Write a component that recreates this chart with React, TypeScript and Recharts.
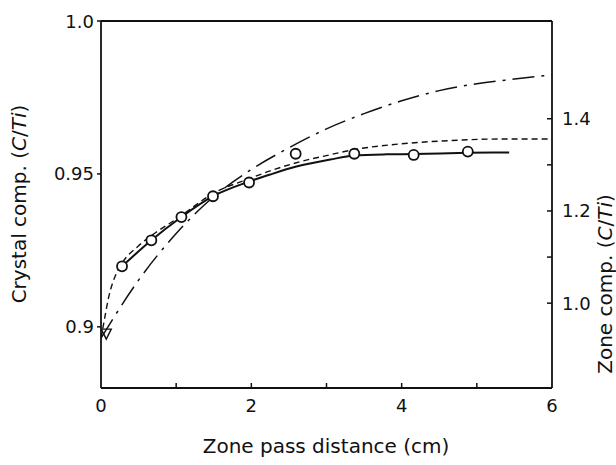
import React from "react";
import { ComposedChart, Line, Scatter, XAxis, YAxis, ReferenceLine } from "recharts";

// axis ticks
const xTicks = [0, 1, 2, 3, 4, 5, 6];
const xLabels = [0, 2, 4, 6];
const leftTicks = [0.9, 0.95, 1.0];
const rightTicks = [1.0, 1.1, 1.2, 1.3, 1.4];
const rightLabels = [1.0, 1.2, 1.4];

// measured crystal composition (open circles)
const measuredX = [0.28, 0.67, 1.07, 1.49, 1.97, 2.59, 3.37, 4.16, 4.88];
const measuredC = [0.9198, 0.9283, 0.9359, 0.9427, 0.9472, 0.9566, 0.9566, 0.9562, 0.9573];

// solid curve through the measured points
const solidX = [0.28, 0.67, 1.07, 1.49, 1.97, 2.25, 2.6, 3.05, 3.37, 3.8, 4.16, 4.88, 5.43];
const solidC = [0.9198, 0.9283, 0.9359, 0.9427, 0.9475, 0.9498, 0.9524, 0.9547, 0.956, 0.9564, 0.9565, 0.9569, 0.957];

// short dashed curve (crystal comp.)
const dashedX = [0, 0.05, 0.1, 0.15, 0.2, 0.28, 0.5, 0.75, 1.0, 1.5, 2.0, 2.25, 2.65, 3.0, 3.38, 3.98, 4.64, 5.31, 6.0];
const dashedC = [0.8962, 0.903, 0.9095, 0.914, 0.9172, 0.9208, 0.9265, 0.9312, 0.9352, 0.9437, 0.9487, 0.951, 0.954, 0.956, 0.958, 0.9598, 0.9609, 0.9614, 0.9614];

// dash-dot curve (zone comp., right axis)
const zoneX = [0, 0.5, 1.0, 1.5, 2.0, 2.5, 3.0, 3.5, 4.0, 4.5, 5.0, 5.5, 6.0];
const zoneZ = [0.924, 1.05, 1.151, 1.231, 1.29, 1.337, 1.378, 1.411, 1.439, 1.461, 1.476, 1.486, 1.495];

// starting point (triangle)
const startX = [0.07];
const startC = [0.8976];

const measured = measuredX.map((x, i) => ({ x, c: measuredC[i] }));
const solid = solidX.map((x, i) => ({ x, c: solidC[i] }));
const dashed = dashedX.map((x, i) => ({ x, c: dashedC[i] }));
const zone = zoneX.map((x, i) => ({ x, z: zoneZ[i] }));
const start = startX.map((x, i) => ({ x, c: startC[i] }));

const FONT = "'DejaVu Sans', sans-serif";
const INK = "#111";

const BottomTick = (props: any) => {
  const { x, y, payload } = props;
  const v = payload.value;
  return (
    <g>
      {v > 0 && v < 6 && <line x1={x} x2={x} y1={y} y2={y - 5} stroke={INK} strokeWidth={1.5} />}
      {xLabels.includes(v) && (
        <text x={x} y={y + 17} textAnchor="middle" dominantBaseline="central" fontFamily={FONT} fontSize={18} fill={INK}>
          {v}
        </text>
      )}
    </g>
  );
};

const LeftTick = (props: any) => {
  const { x, y, payload } = props;
  const v = payload.value;
  const label = v === 1 ? "1.0" : String(v);
  return (
    <g>
      <line x1={x - 4} x2={x} y1={y} y2={y} stroke={INK} strokeWidth={1.5} />
      <text x={x - 7} y={y} textAnchor="end" dominantBaseline="central" fontFamily={FONT} fontSize={18} fill={INK}>
        {label}
      </text>
    </g>
  );
};

const RightTick = (props: any) => {
  const { x, y, payload } = props;
  const v = payload.value;
  const show = rightLabels.some((r) => Math.abs(r - v) < 1e-6);
  return (
    <g>
      <line x1={x - 5} x2={x} y1={y} y2={y} stroke={INK} strokeWidth={1.5} />
      {show && (
        <text x={x + 10} y={y} textAnchor="start" dominantBaseline="central" fontFamily={FONT} fontSize={18} fill={INK}>
          {v.toFixed(1)}
        </text>
      )}
    </g>
  );
};

const OpenCircle = (props: any) => {
  const { cx, cy } = props;
  return <circle cx={cx} cy={cy} r={5} fill="#fff" stroke={INK} strokeWidth={1.8} />;
};

const OpenTriangle = (props: any) => {
  const { cx, cy } = props;
  const s = 5;
  return (
    <path
      d={`M${cx - s},${cy - s} L${cx + s},${cy - s} L${cx},${cy + s} Z`}
      fill="none"
      stroke={INK}
      strokeWidth={1.4}
    />
  );
};

export default function App() {
  return (
    <div style={{ position: "absolute", left: 0, top: 0, width: 616, height: 465, background: "#fff", fontFamily: FONT, color: INK }}>
      <ComposedChart width={616} height={465} margin={{ top: 21, right: 4, left: 41, bottom: 47 }}>
        <XAxis
          dataKey="x"
          type="number"
          domain={[0, 6]}
          ticks={xTicks}
          interval={0}
          allowDataOverflow
          height={30}
          tickSize={0}
          tickMargin={0}
          tickLine={false}
          tick={<BottomTick />}
          axisLine={{ stroke: INK, strokeWidth: 1.8 }}
        />
        <YAxis
          yAxisId="left"
          type="number"
          domain={[0.88, 1.0]}
          ticks={leftTicks}
          interval={0}
          allowDataOverflow
          width={60}
          tickSize={0}
          tickMargin={0}
          tickLine={false}
          tick={<LeftTick />}
          axisLine={{ stroke: INK, strokeWidth: 1.8 }}
        />
        <YAxis
          yAxisId="right"
          orientation="right"
          type="number"
          domain={[0.816, 1.612]}
          ticks={rightTicks}
          interval={0}
          allowDataOverflow
          width={60}
          tickSize={0}
          tickMargin={0}
          tickLine={false}
          tick={<RightTick />}
          axisLine={{ stroke: INK, strokeWidth: 1.8 }}
        />
        <ReferenceLine yAxisId="left" y={1.0} stroke={INK} strokeWidth={1.8} />
        <Line
          data={zone}
          dataKey="z"
          yAxisId="right"
          type="monotone"
          stroke={INK}
          strokeWidth={1.5}
          strokeDasharray="22 7 3 7"
          dot={false}
          activeDot={false}
          isAnimationActive={false}
        />
        <Line
          data={dashed}
          dataKey="c"
          yAxisId="left"
          type="monotone"
          stroke={INK}
          strokeWidth={1.4}
          strokeDasharray="6 4"
          dot={false}
          activeDot={false}
          isAnimationActive={false}
        />
        <Line
          data={solid}
          dataKey="c"
          yAxisId="left"
          type="monotone"
          stroke={INK}
          strokeWidth={2}
          dot={false}
          activeDot={false}
          isAnimationActive={false}
        />
        <Scatter data={measured} dataKey="c" yAxisId="left" shape={<OpenCircle />} isAnimationActive={false} />
        <Scatter data={start} dataKey="c" yAxisId="left" shape={<OpenTriangle />} isAnimationActive={false} />
      </ComposedChart>
      <div
        style={{
          position: "absolute",
          left: 19,
          top: 204,
          transform: "translate(-50%, -50%) rotate(-90deg)",
          whiteSpace: "nowrap",
          fontSize: 20,
        }}
      >
        Crystal comp. (<i>C</i>/<i>Ti</i>)
      </div>
      <div
        style={{
          position: "absolute",
          left: 605,
          top: 284,
          transform: "translate(-50%, -50%) rotate(-90deg)",
          whiteSpace: "nowrap",
          fontSize: 20,
        }}
      >
        Zone comp. (<i>C</i>/<i>Ti</i>)
      </div>
      <div
        style={{
          position: "absolute",
          left: 326,
          top: 446,
          transform: "translate(-50%, -50%)",
          whiteSpace: "nowrap",
          fontSize: 20,
        }}
      >
        Zone pass distance (cm)
      </div>
    </div>
  );
}
